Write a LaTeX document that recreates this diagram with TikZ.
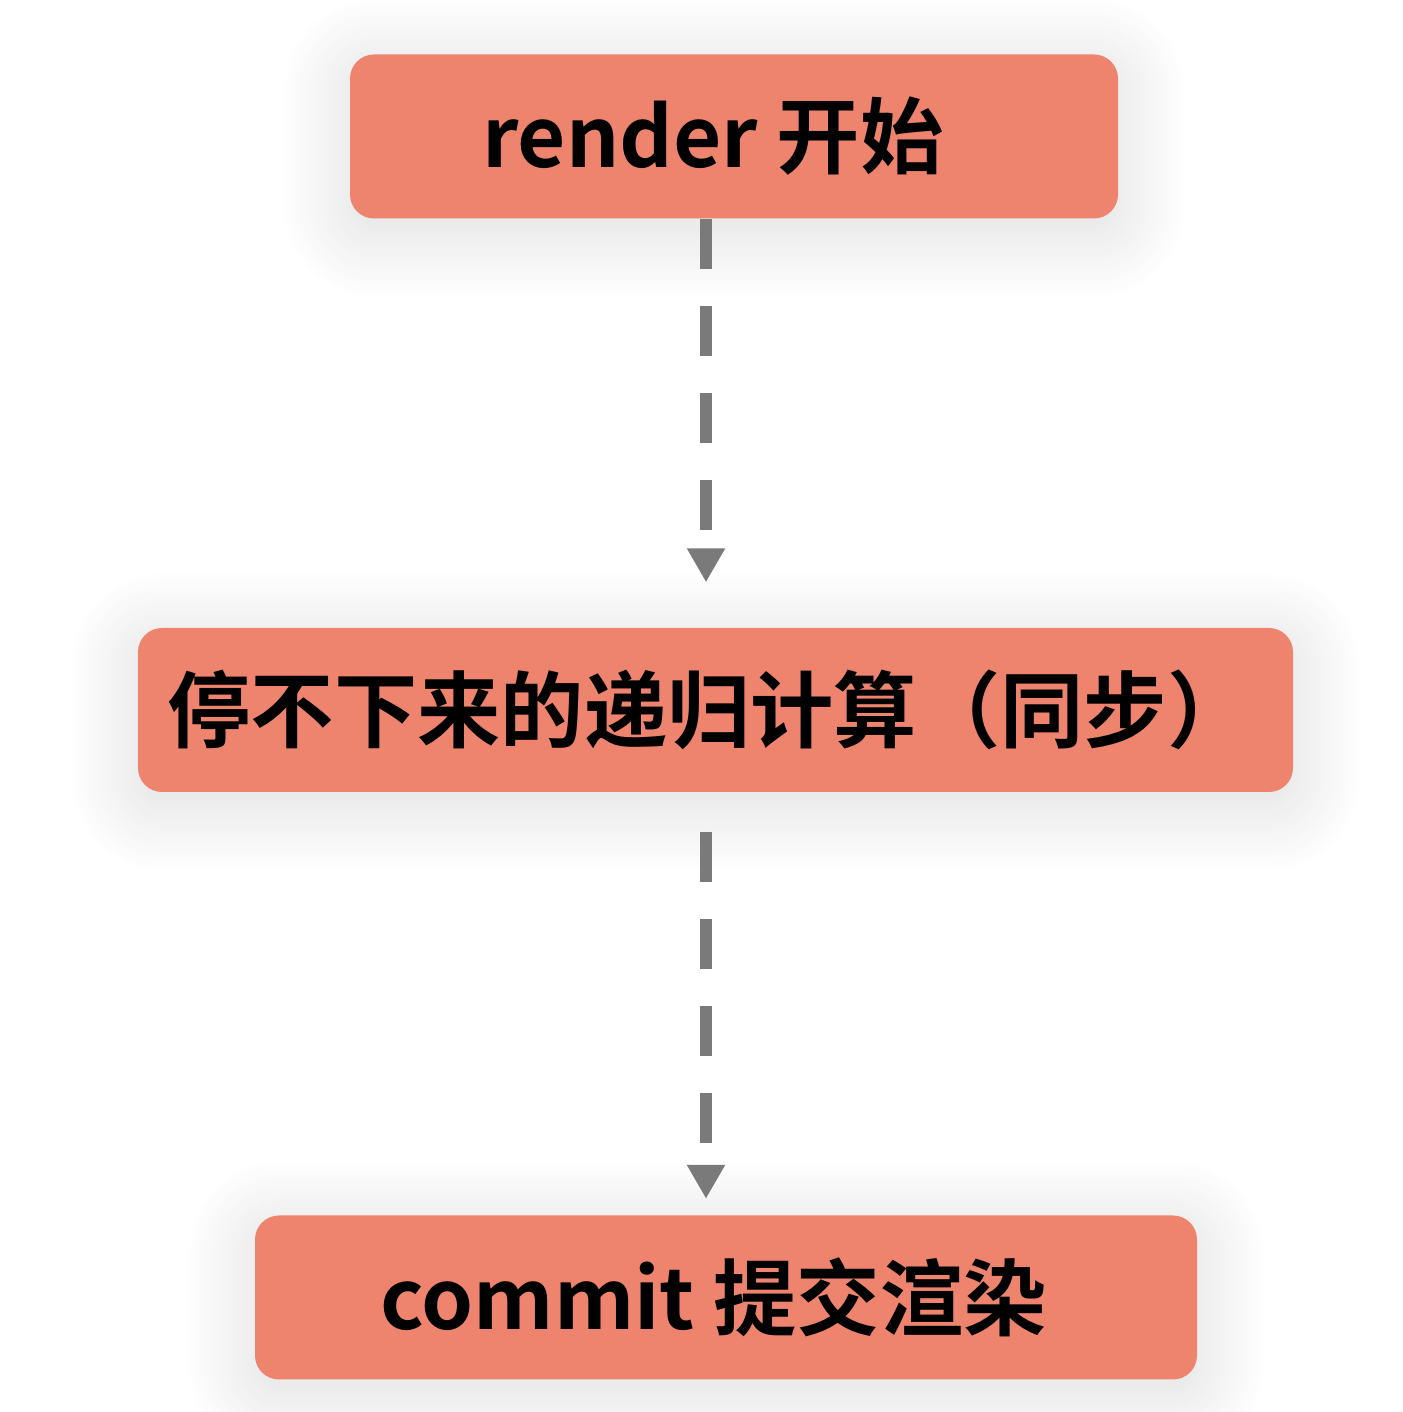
\documentclass[tikz,border=0pt]{standalone}
\usepackage{fontspec}
\newfontfamily\cjk{Noto Sans CJK SC}[UprightFont=* Bold]
\usepackage{tikz}
\usetikzlibrary{arrows,arrows.meta,shadows.blur}
\definecolor{boxred}{RGB}{238,132,110}
\definecolor{flowgray}{RGB}{122,122,122}

\begin{document}
\begin{tikzpicture}[
stage/.style={fill=boxred,rounded corners=0.24cm,minimum height=1.64cm,inner sep=0pt,
  font=\cjk\fontsize{23.7}{27}\selectfont,
  blur shadow={shadow xshift=0pt,shadow yshift=-0.12cm,shadow blur radius=0.7cm,
    shadow blur steps=24,shadow opacity=14}},
flow/.style={draw=flowgray,line width=0.12cm,dash pattern=on 0.5cm off 0.37cm,
  -{Triangle[length=0.34cm,width=0.36cm]}} ]

\useasboundingbox (0,0) rectangle (14.02,14.12);

\coordinate (axis) at (7.06,7);

\node[stage,minimum width=7.68cm](start) at (7.34,12.755) {render 开始\hspace*{0.42cm}};

\node[stage,minimum width=11.55cm](loop) at (7.155,7.02) {停不下来的递归计算（同步）\hspace*{0.13cm}};

\node[stage,minimum width=9.42cm](commit) at (7.26,1.145) {commit 提交渲染\hspace*{0.25cm}};

\draw[flow,shorten >=0.45cm] (start.south -| axis) -- (loop.north -| axis);

\draw[flow,shorten <=0.39cm,shorten >=0.16cm] (loop.south -| axis) -- (commit.north -| axis);

\end{tikzpicture}
\end{document}
